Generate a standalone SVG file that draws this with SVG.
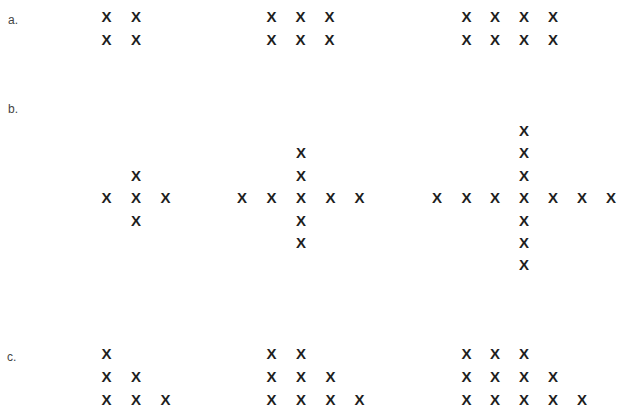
<svg xmlns="http://www.w3.org/2000/svg" width="617" height="411" viewBox="0 0 617 411">
<style>
.x{font-family:"Liberation Sans",Arial,sans-serif;font-weight:bold;font-size:15px;fill:#1e1e1e;text-anchor:middle}
.lbl{font-family:"Liberation Sans",Arial,sans-serif;font-size:12px;fill:#444}
</style>
<rect width="617" height="411" fill="#fff"/>
<g id="labels">
<text class="lbl" x="8" y="24">a.</text>
<text class="lbl" x="8" y="113">b.</text>
<text class="lbl" x="7" y="361">c.</text>
</g>
<g id="a1" class="x">
<text x="106.5" y="22.4">X</text><text x="136" y="22.4">X</text>
<text x="106.5" y="45.4">X</text><text x="136" y="45.4">X</text>
</g>
<g id="a2" class="x">
<text x="271.5" y="22.4">X</text><text x="300.5" y="22.4">X</text><text x="329.5" y="22.4">X</text>
<text x="271.5" y="45.4">X</text><text x="300.5" y="45.4">X</text><text x="329.5" y="45.4">X</text>
</g>
<g id="a3" class="x">
<text x="466.5" y="22.4">X</text><text x="495" y="22.4">X</text><text x="524" y="22.4">X</text><text x="553" y="22.4">X</text>
<text x="466.5" y="45.4">X</text><text x="495" y="45.4">X</text><text x="524" y="45.4">X</text><text x="553" y="45.4">X</text>
</g>
<g id="b1" class="x">
<text x="136" y="180.9">X</text>
<text x="106.5" y="203.4">X</text><text x="136" y="203.4">X</text><text x="165.5" y="203.4">X</text>
<text x="136" y="225.9">X</text>
</g>
<g id="b2" class="x">
<text x="301" y="158.4">X</text>
<text x="301" y="180.9">X</text>
<text x="242" y="203.4">X</text><text x="271.5" y="203.4">X</text><text x="301" y="203.4">X</text><text x="330.5" y="203.4">X</text><text x="359.5" y="203.4">X</text>
<text x="301" y="225.9">X</text>
<text x="301" y="248.4">X</text>
</g>
<g id="b3" class="x">
<text x="524" y="136.4">X</text>
<text x="524" y="158.4">X</text>
<text x="524" y="180.9">X</text>
<text x="437" y="203.4">X</text><text x="466.5" y="203.4">X</text><text x="495" y="203.4">X</text><text x="524" y="203.4">X</text><text x="553" y="203.4">X</text><text x="582" y="203.4">X</text><text x="611" y="203.4">X</text>
<text x="524" y="225.9">X</text>
<text x="524" y="248.4">X</text>
<text x="524" y="270.4">X</text>
</g>
<g id="c1" class="x">
<text x="106.5" y="359.4">X</text>
<text x="106.5" y="382.4">X</text><text x="136" y="382.4">X</text>
<text x="106.5" y="405.4">X</text><text x="136" y="405.4">X</text><text x="165.5" y="405.4">X</text>
</g>
<g id="c2" class="x">
<text x="271.5" y="359.4">X</text><text x="301" y="359.4">X</text>
<text x="271.5" y="382.4">X</text><text x="301" y="382.4">X</text><text x="330.5" y="382.4">X</text>
<text x="271.5" y="405.4">X</text><text x="301" y="405.4">X</text><text x="330.5" y="405.4">X</text><text x="359.5" y="405.4">X</text>
</g>
<g id="c3" class="x">
<text x="466.5" y="359.4">X</text><text x="495" y="359.4">X</text><text x="524" y="359.4">X</text>
<text x="466.5" y="382.4">X</text><text x="495" y="382.4">X</text><text x="524" y="382.4">X</text><text x="553" y="382.4">X</text>
<text x="466.5" y="405.4">X</text><text x="495" y="405.4">X</text><text x="524" y="405.4">X</text><text x="553" y="405.4">X</text><text x="582" y="405.4">X</text>
</g>
</svg>
